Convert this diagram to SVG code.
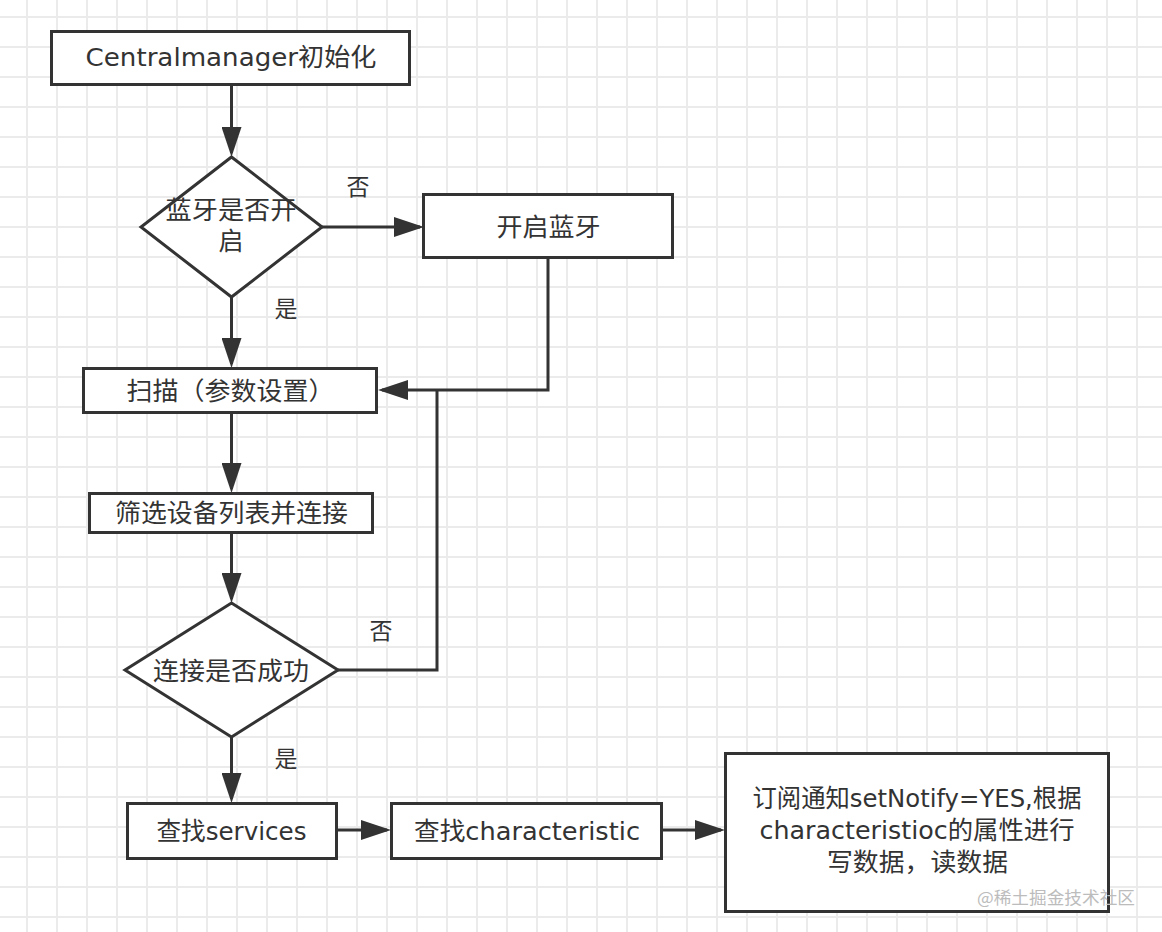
<svg xmlns="http://www.w3.org/2000/svg" width="1162" height="932" viewBox="0 0 1162 932">
  <style>
    .box { fill: #ffffff; stroke: #333333; stroke-width: 3; }
    .conn { fill: none; stroke: #333333; stroke-width: 3; }
    .t { font-family: "DejaVu Sans", "Noto Sans CJK SC", sans-serif; font-size: 25px; fill: #333333; text-anchor: middle; }
    .lbl { font-family: "Noto Sans CJK SC", sans-serif; font-size: 23px; fill: #333333; text-anchor: middle; }
    .wm { font-family: "Noto Sans CJK SC", sans-serif; font-size: 17px; fill: #bcbcbc; text-anchor: middle; }
  </style>
  <defs>
    <pattern id="grid" x="26" y="16" width="30" height="30" patternUnits="userSpaceOnUse">
      <rect x="0" y="0" width="2" height="30" fill="#ebebeb"/>
      <rect x="0" y="0" width="30" height="2" fill="#ebebeb"/>
    </pattern>
    <marker id="arrow" markerUnits="userSpaceOnUse" markerWidth="30" markerHeight="20" refX="26" refY="10" orient="auto">
      <path d="M0,0 L30,10 L0,20 Z" fill="#333333"/>
    </marker>
  </defs>

  <rect x="0" y="0" width="1162" height="932" fill="#ffffff"/>
  <rect x="0" y="0" width="1162" height="932" fill="url(#grid)"/>

  <g id="connectors">
    <path class="conn" d="M231.5,85 V153" marker-end="url(#arrow)"/>
    <path class="conn" d="M322,227 H420" marker-end="url(#arrow)"/>
    <path class="conn" d="M231.5,297 V364" marker-end="url(#arrow)"/>
    <path class="conn" d="M548,258 V390 H382" marker-end="url(#arrow)"/>
    <path class="conn" d="M338,670 H437 V390"/>
    <path class="conn" d="M231.5,413 V489" marker-end="url(#arrow)"/>
    <path class="conn" d="M231.5,533 V599" marker-end="url(#arrow)"/>
    <path class="conn" d="M231.5,737 V799" marker-end="url(#arrow)"/>
    <path class="conn" d="M337,830 H387" marker-end="url(#arrow)"/>
    <path class="conn" d="M662,830 H721" marker-end="url(#arrow)"/>
  </g>

  <g id="labels">
    <text class="lbl" x="358" y="195">否</text>
    <text class="lbl" x="286" y="317">是</text>
    <text class="lbl" x="381" y="639">否</text>
    <text class="lbl" x="286" y="767">是</text>
  </g>

  <g id="node-init">
    <rect class="box" x="51.5" y="31.5" width="358" height="53"/>
    <text class="t" x="231" y="66" textLength="291" lengthAdjust="spacingAndGlyphs">Centralmanager初始化</text>
  </g>

  <g id="node-bt-on">
    <polygon class="box" points="231.5,157 322,227 231.5,297 141,227"/>
    <text class="t" x="231" y="219" textLength="131" lengthAdjust="spacingAndGlyphs">蓝牙是否开</text>
    <text class="t" x="231" y="250">启</text>
  </g>

  <g id="node-open-bt">
    <rect class="box" x="423.5" y="194.5" width="249" height="63"/>
    <text class="t" x="548.5" y="236" textLength="104" lengthAdjust="spacingAndGlyphs">开启蓝牙</text>
  </g>

  <g id="node-scan">
    <rect class="box" x="83.5" y="368.5" width="293" height="44"/>
    <text class="t" x="126.5" y="400" style="text-anchor:start" textLength="208" lengthAdjust="spacingAndGlyphs">扫描（参数设置）</text>
  </g>

  <g id="node-filter">
    <rect class="box" x="89.5" y="493.5" width="283" height="39"/>
    <text class="t" x="231.5" y="522" textLength="233" lengthAdjust="spacingAndGlyphs">筛选设备列表并连接</text>
  </g>

  <g id="node-connected">
    <polygon class="box" points="231.5,603 338,670 231.5,737 125,670"/>
    <text class="t" x="231" y="680" textLength="156" lengthAdjust="spacingAndGlyphs">连接是否成功</text>
  </g>

  <g id="node-services">
    <rect class="box" x="127.5" y="803.5" width="209" height="55"/>
    <text class="t" x="231.5" y="840" textLength="150" lengthAdjust="spacingAndGlyphs">查找services</text>
  </g>

  <g id="node-characteristic">
    <rect class="box" x="391.5" y="803.5" width="270" height="55"/>
    <text class="t" x="527" y="840" textLength="226" lengthAdjust="spacingAndGlyphs">查找characteristic</text>
  </g>

  <g id="node-notify">
    <rect class="box" x="725.5" y="753.5" width="383" height="158"/>
    <text class="t" x="917" y="807" textLength="329" lengthAdjust="spacingAndGlyphs">订阅通知setNotify=YES,根据</text>
    <text class="t" x="917" y="839" textLength="315" lengthAdjust="spacingAndGlyphs">characteristioc的属性进行</text>
    <text class="t" x="917.5" y="871" textLength="181" lengthAdjust="spacingAndGlyphs">写数据，读数据</text>
  </g>

  <text class="wm" x="1056" y="904" textLength="158" lengthAdjust="spacingAndGlyphs">@稀土掘金技术社区</text>
</svg>
